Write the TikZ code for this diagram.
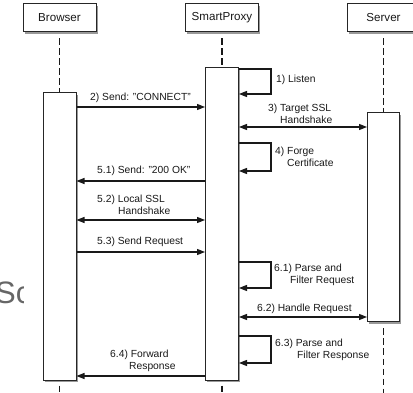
\documentclass[tikz,border=0pt]{standalone}
\usepackage{fontspec}
\setmainfont{Liberation Sans}
\usetikzlibrary{arrows.meta,shadows}
\begin{document}
\begin{tikzpicture}[x=1pt,y=-1pt,
  every node/.style={inner sep=0pt, text=black!90},
  shad/.style={drop shadow={shadow xshift=1.6pt,shadow yshift=-2pt,opacity=0.4,fill=black}},
  head/.style={draw=black!85, fill=white, line width=1pt, minimum width=73pt, minimum height=28pt, font=\fontsize{11.6}{13}\selectfont, shad},
  act/.style={draw=black!85, fill=white, line width=1pt, minimum width=33pt, shad},
  life/.style={draw=black!90, line width=1.4pt, dash pattern=on 6.5pt off 3.5pt},
  msg/.style={draw=black!90, line width=1.2pt, -{Triangle[length=8pt,width=6pt]}},
  bimsg/.style={draw=black!90, line width=1.2pt, {Triangle[length=8pt,width=6pt]}-{Triangle[length=8pt,width=6pt]}},
  lbl/.style={font=\fontsize{10.3}{12.2}\selectfont, align=left, anchor=west},
]
\useasboundingbox (0,0) rectangle (413,393);
% background slide fragment
\node[anchor=base west, text=black!60, font=\fontsize{31}{31}\selectfont] (bgtext) at (-5,303.5) {Sc};
\fill[white] (24,0) rectangle (413,393);

% headers
\node[head] (bh) at (59.5,18) {Browser};
\node[head] (sh) at (222,18) {SmartProxy};
\node[head] (vh) at (383.5,18) {Server};

% activation boxes
\node[act, minimum height=287pt] (ba) at (59.5,236.5) {};
\node[act, minimum height=312pt] (sa) at (222,224) {};
\node[act, minimum width=32pt, minimum height=209pt] (va) at (383.5,217.5) {};

% lifelines
\coordinate (bend) at (59.5,400);
\coordinate (send) at (222,400);
\coordinate (vend) at (383.5,400);
\draw[life, shorten <=6pt] (bh) -- (ba);
\draw[life, shorten <=6pt] (sh) -- (sa);
\draw[life, shorten <=6pt] (vh) -- (va);
\draw[life, shorten <=5pt] (ba) -- (bend);
\draw[life, shorten <=5pt] (sa) -- (send);
\draw[life, shorten <=6pt] (va) -- (vend);

% y levels
\coordinate (y1a) at (0,69);
\coordinate (y1b) at (0,94);
\coordinate (y2) at (0,107);
\coordinate (y3) at (0,127);
\coordinate (y4a) at (0,143);
\coordinate (y4b) at (0,171);
\coordinate (y51) at (0,181);
\coordinate (y52) at (0,220);
\coordinate (y53) at (0,252);
\coordinate (y61a) at (0,262);
\coordinate (y61b) at (0,288);
\coordinate (y62) at (0,317);
\coordinate (y63a) at (0,336);
\coordinate (y63b) at (0,363);
\coordinate (y64) at (0,376);

% messages
\draw[msg] (sa.east |- y1a) -- ++(32,0) |- (sa.east |- y1b);
\node[lbl] (t1) at (276,80) {1) Listen};

\draw[msg] (ba.east |- y2) -- (sa.west |- y2);
\node[lbl] (t2) at (90,97.5) {2) Send: "CONNECT"};

\draw[bimsg] (sa.east |- y3) -- (va.west |- y3);
\node[lbl] (t3) at (268,113.5) {3) Target SSL\\\hspace*{12pt}Handshake};

\draw[msg] (sa.east |- y4a) -- ++(32,0) |- (sa.east |- y4b);
\node[lbl] (t4) at (275,157) {4) Forge\\\hspace*{12pt}Certificate};

\draw[msg] (sa.west |- y51) -- (ba.east |- y51);
\node[lbl] (t51) at (97,171) {5.1) Send: "200 OK"};

\draw[bimsg] (ba.east |- y52) -- (sa.west |- y52);
\node[lbl] (t52) at (97,205) {5.2) Local SSL\\\hspace*{21pt}Handshake};

\draw[msg] (ba.east |- y53) -- (sa.west |- y53);
\node[lbl] (t53) at (97,242) {5.3) Send Request};

\draw[msg] (sa.east |- y61a) -- ++(32,0) |- (sa.east |- y61b);
\node[lbl] (t61) at (274,274.5) {6.1) Parse and\\\hspace*{16pt}Filter Request};

\draw[bimsg] (sa.east |- y62) -- (va.west |- y62);
\node[lbl] (t62) at (257,309) {6.2) Handle Request};

\draw[msg] (sa.east |- y63a) -- ++(32,0) |- (sa.east |- y63b);
\node[lbl] (t63) at (275,349.5) {6.3) Parse and\\\hspace*{22pt}Filter Response};

\draw[msg] (sa.west |- y64) -- (ba.east |- y64);
\node[lbl] (t64) at (110,360.5) {6.4) Forward\\\hspace*{19pt}Response};
\end{tikzpicture}
\end{document}
